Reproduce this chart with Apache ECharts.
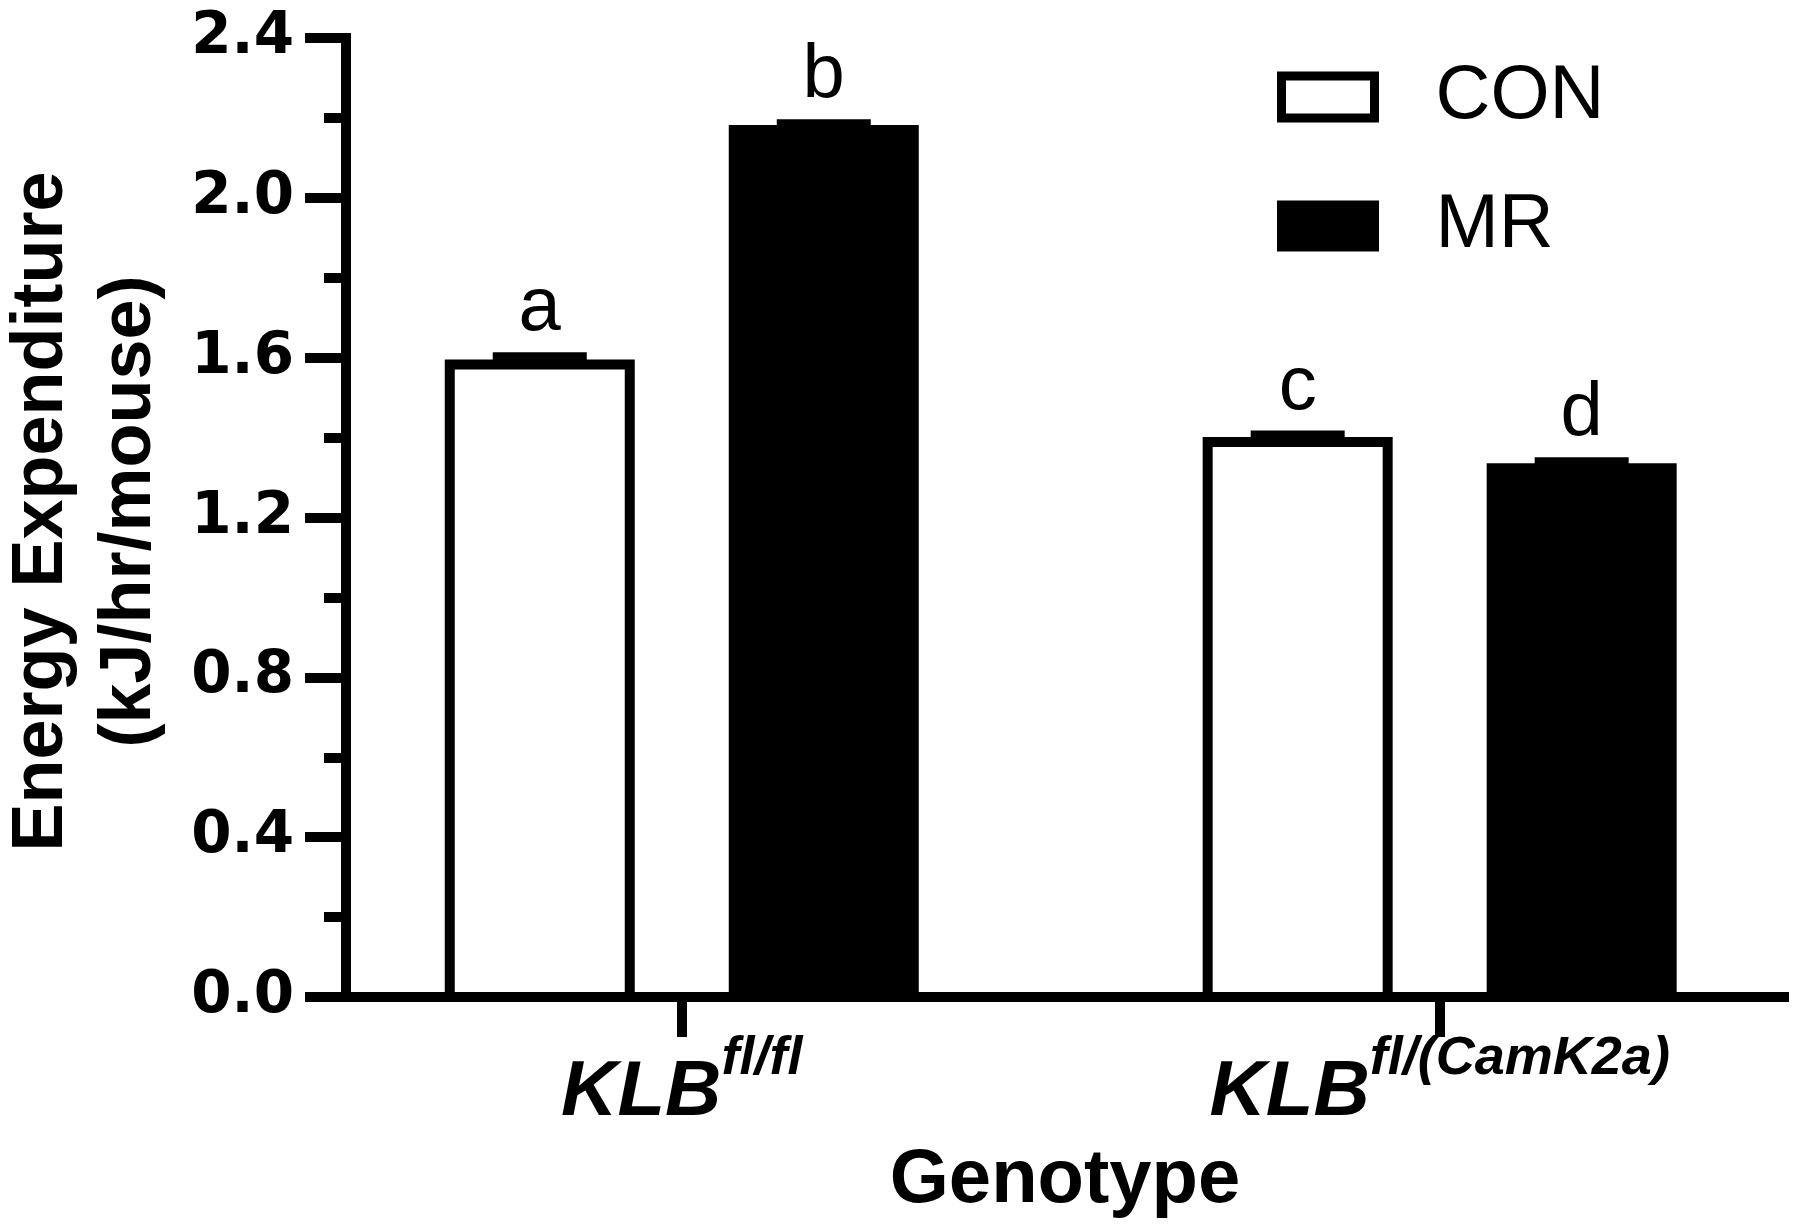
<!DOCTYPE html>
<html>
<head>
<meta charset="utf-8">
<script src="https://cdn.jsdelivr.net/npm/echarts@6/dist/echarts.min.js"></script>
<style>
html,body{margin:0;padding:0;background:#fff;}
#chart{width:1800px;height:1232px;}
</style>
</head>
<body>
<div id="chart"></div>
<script>
// ---- data ----
const genotypeBase = ['KLB', 'KLB'];
const genotypeSup = ['fl/fl', 'fl/(CamK2a)'];
const groupNames = ['CON', 'MR'];
const conMean = [1.583, 1.389];
const conSem = [0.018, 0.016];
const conLetters = ['a', 'c'];
const mrMean = [2.170, 1.323];
const mrSem = [0.014, 0.015];
const mrLetters = ['b', 'd'];
const yTitle = 'Energy Expenditure\n(kJ/hr/mouse)';
const xTitle = 'Genotype';

// ---- chart ----
const chart = echarts.init(document.getElementById('chart'), null, {renderer: 'canvas'});

function makeRender(offset, fill, letters) {
  return function (params, api) {
    const x = api.value(0), v = api.value(1), e = api.value(2);
    const p0 = api.coord([x, 0]);
    const p1 = api.coord([x, v]);
    const p2 = api.coord([x, v + e]);
    const cx = p0[0] + offset;
    const w = 180, cw = 94;
    return {
      type: 'group',
      children: [
        {type: 'rect', shape: {x: cx - w / 2, y: p1[1], width: w, height: p0[1] - p1[1]},
         style: {fill: fill, stroke: '#000', lineWidth: 10}},
        {type: 'line', shape: {x1: cx, y1: p1[1], x2: cx, y2: p2[1]},
         style: {stroke: '#000', lineWidth: 10}},
        {type: 'line', shape: {x1: cx - cw / 2, y1: p2[1], x2: cx + cw / 2, y2: p2[1]},
         style: {stroke: '#000', lineWidth: 10}},
        {type: 'text', x: cx, y: p2[1] - 10,
         style: {text: letters[params.dataIndex], fill: '#000', fontSize: 76,
                 fontFamily: '"Liberation Sans", Arial, sans-serif',
                 align: 'center', verticalAlign: 'bottom'}}
      ]
    };
  };
}

const labelFont = '"Liberation Sans", Arial, sans-serif';
const narrowFont = '"Liberation Sans Narrow", "Liberation Sans", Arial, sans-serif';

const option = {
  animation: false,
  backgroundColor: '#fff',
  grid: {left: 346, right: 16, top: 38, bottom: 235, containLabel: false, outerBoundsMode: 'none'},
  legend: {
    orient: 'vertical', left: 1277, top: 59, padding: 0,
    itemWidth: 93, itemHeight: 42, itemGap: 53, selectedMode: false,
    textStyle: {fontSize: 76, fontFamily: labelFont, color: '#000', padding: [0, 0, 0, 56]},
    data: [
      {name: groupNames[0], icon: 'rect', itemStyle: {color: '#fff', borderColor: '#000', borderWidth: 9}},
      {name: groupNames[1], icon: 'rect', itemStyle: {color: '#000', borderColor: '#000', borderWidth: 9}}
    ]
  },
  xAxis: {
    type: 'value', min: -0.443, max: 1.4543,
    splitLine: {show: false},
    axisLine: {show: true, onZero: false, lineStyle: {color: '#000', width: 10, cap: 'square'}},
    axisTick: {show: true, customValues: [0, 1], length: 40, lineStyle: {color: '#000', width: 10}},
    axisLabel: {
      customValues: [0, 1], margin: 35,
      formatter: function (v) {
        const i = Math.round(v);
        return '{k|' + genotypeBase[i] + '}{s|' + genotypeSup[i] + '}';
      },
      rich: {
        k: {fontFamily: narrowFont, fontWeight: 'bold', fontStyle: 'italic', fontSize: 78,
            color: '#000', lineHeight: 100, verticalAlign: 'bottom'},
        s: {fontFamily: labelFont, fontWeight: 'bold', fontStyle: 'italic', fontSize: 54,
            color: '#000', lineHeight: 58, verticalAlign: 'top'}
      }
    },
    name: xTitle, nameLocation: 'middle', nameGap: 146,
    nameTextStyle: {fontFamily: labelFont, fontWeight: 'bold', fontSize: 76, lineHeight: 76, color: '#000'}
  },
  yAxis: {
    type: 'value', min: 0, max: 2.4, interval: 0.4,
    splitLine: {show: false},
    axisLine: {show: true, onZero: false, lineStyle: {color: '#000', width: 10, cap: 'square'}},
    axisTick: {show: true, length: 41, lineStyle: {color: '#000', width: 10}},
    minorTick: {show: true, splitNumber: 2, length: 22, lineStyle: {color: '#000', width: 10}},
    axisLabel: {
      margin: 52, color: '#000', fontSize: 58, fontWeight: 'bold',
      fontFamily: '"DejaVu Sans", sans-serif',
      formatter: function (v) { return v.toFixed(1); }
    },
    name: yTitle, nameLocation: 'middle', nameRotate: 90, nameGap: 172,
    nameTextStyle: {fontFamily: labelFont, fontWeight: 'bold', fontSize: 72, lineHeight: 88,
                    color: '#000', padding: [0, 0, 0, 12]}
  },
  series: [
    {
      name: groupNames[0], type: 'custom',
      renderItem: makeRender(-142, '#fff', conLetters),
      encode: {x: 0, y: 1},
      data: conMean.map(function (v, i) { return [i, v, conSem[i]]; }),
      clip: false, z: 3
    },
    {
      name: groupNames[1], type: 'custom',
      renderItem: makeRender(142, '#000', mrLetters),
      encode: {x: 0, y: 1},
      data: mrMean.map(function (v, i) { return [i, v, mrSem[i]]; }),
      clip: false, z: 3
    }
  ]
};
chart.setOption(option);
</script>
</body>
</html>
